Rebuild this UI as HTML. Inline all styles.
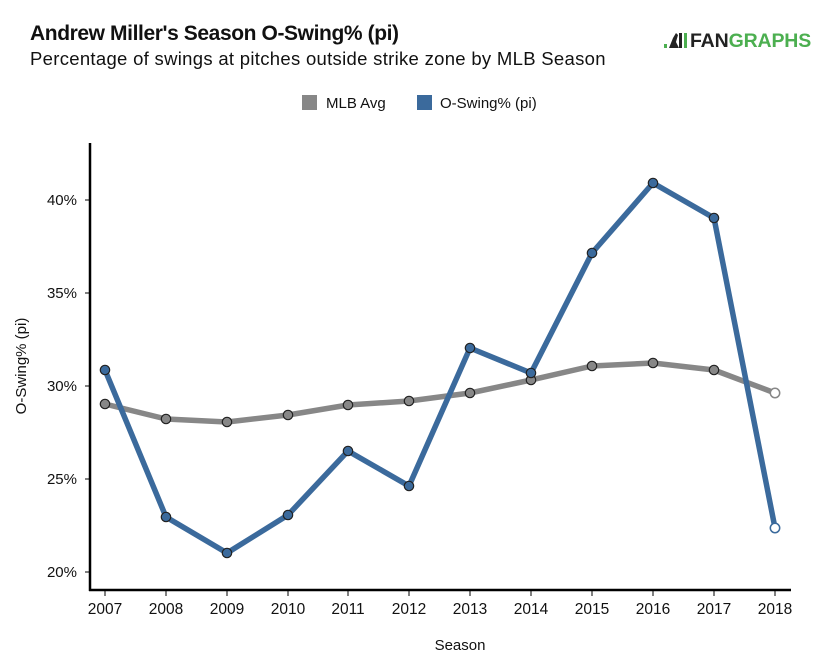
<!DOCTYPE html>
<html>
<head>
<meta charset="utf-8">
<style>
  html,body{margin:0;padding:0;background:#fff;}
  body{width:828px;height:665px;overflow:hidden;font-family:"Liberation Sans",sans-serif;}
</style>
</head>
<body>
<svg width="828" height="665" viewBox="0 0 828 665" xmlns="http://www.w3.org/2000/svg" style="display:block">
  <rect width="828" height="665" fill="#fff"/>
  <!-- Title -->
  <text x="30" y="40" font-family="Liberation Sans, sans-serif" font-size="21" font-weight="bold" fill="#111" letter-spacing="-0.4">Andrew Miller's Season O-Swing% (pi)</text>
  <text x="30" y="65" font-family="Liberation Sans, sans-serif" font-size="18.5" fill="#111" letter-spacing="0.3">Percentage of swings at pitches outside strike zone by MLB Season</text>
  <!-- Logo -->
  <g>
    <rect x="664" y="44" width="3" height="4" fill="#4caf50"/>
    <path d="M669 48 L673 38 L676 33 L678 35 L676 42 L679 48 Z" fill="#222"/>
    <rect x="679" y="33" width="3" height="15" fill="#222"/>
    <rect x="684" y="33" width="3" height="15" fill="#4caf50"/>
    <text x="690" y="47" font-family="Liberation Sans, sans-serif" font-size="19.5" font-weight="bold" fill="#222" letter-spacing="-0.15">FAN<tspan fill="#4caf50">GRAPHS</tspan></text>
  </g>
  <!-- Legend -->
  <rect x="302" y="95" width="15" height="15" fill="#878787"/>
  <text x="326" y="108" font-family="Liberation Sans, sans-serif" font-size="15" fill="#111">MLB Avg</text>
  <rect x="417" y="95" width="15" height="15" fill="#3b6a9c"/>
  <text x="440" y="108" font-family="Liberation Sans, sans-serif" font-size="15" fill="#111">O-Swing% (pi)</text>

  <!-- Axes -->
  <line x1="90" y1="143" x2="90" y2="591" stroke="#000" stroke-width="2.5"/>
  <line x1="89" y1="590" x2="791" y2="590" stroke="#000" stroke-width="2.5"/>
  <!-- Y ticks -->
  <g stroke="#000" stroke-width="1">
    <line x1="85" y1="200" x2="90" y2="200"/>
    <line x1="85" y1="293" x2="90" y2="293"/>
    <line x1="85" y1="386" x2="90" y2="386"/>
    <line x1="85" y1="479" x2="90" y2="479"/>
    <line x1="85" y1="572" x2="90" y2="572"/>
  </g>
  <g font-family="Liberation Sans, sans-serif" font-size="15" fill="#111" text-anchor="end">
    <text x="77" y="205">40%</text>
    <text x="77" y="298">35%</text>
    <text x="77" y="391">30%</text>
    <text x="77" y="484">25%</text>
    <text x="77" y="577">20%</text>
  </g>
  <!-- X ticks -->
  <g stroke="#000" stroke-width="1">
    <line x1="105" y1="590" x2="105" y2="596"/>
    <line x1="166" y1="590" x2="166" y2="596"/>
    <line x1="227" y1="590" x2="227" y2="596"/>
    <line x1="288" y1="590" x2="288" y2="596"/>
    <line x1="348" y1="590" x2="348" y2="596"/>
    <line x1="409" y1="590" x2="409" y2="596"/>
    <line x1="470" y1="590" x2="470" y2="596"/>
    <line x1="531" y1="590" x2="531" y2="596"/>
    <line x1="592" y1="590" x2="592" y2="596"/>
    <line x1="653" y1="590" x2="653" y2="596"/>
    <line x1="714" y1="590" x2="714" y2="596"/>
    <line x1="775" y1="590" x2="775" y2="596"/>
  </g>
  <g font-family="Liberation Sans, sans-serif" font-size="15.5" fill="#111" text-anchor="middle">
    <text x="105" y="614">2007</text>
    <text x="166" y="614">2008</text>
    <text x="227" y="614">2009</text>
    <text x="288" y="614">2010</text>
    <text x="348" y="614">2011</text>
    <text x="409" y="614">2012</text>
    <text x="470" y="614">2013</text>
    <text x="531" y="614">2014</text>
    <text x="592" y="614">2015</text>
    <text x="653" y="614">2016</text>
    <text x="714" y="614">2017</text>
    <text x="775" y="614">2018</text>
  </g>
  <text x="460" y="650" font-family="Liberation Sans, sans-serif" font-size="15" fill="#111" text-anchor="middle">Season</text>
  <text transform="translate(26,366) rotate(-90)" font-family="Liberation Sans, sans-serif" font-size="15" fill="#111" text-anchor="middle">O-Swing% (pi)</text>

  <!-- MLB Avg line -->
  <polyline fill="none" stroke="#878787" stroke-width="5.5" stroke-linejoin="round"
    points="105,404 166,419 227,422 288,415 348,405 409,401 470,393 531,380 592,366 653,363 714,370 775,393"/>
  <!-- O-Swing line -->
  <polyline fill="none" stroke="#3b6a9c" stroke-width="5.5" stroke-linejoin="round"
    points="105,370 166,517 227,553 288,515 348,451 409,486 470,348 531,373 592,253 653,183 714,218 775,528"/>

  <!-- MLB markers -->
  <g fill="#878787" stroke="#222" stroke-width="1.2">
    <circle cx="105" cy="404" r="4.7"/>
    <circle cx="166" cy="419" r="4.7"/>
    <circle cx="227" cy="422" r="4.7"/>
    <circle cx="288" cy="415" r="4.7"/>
    <circle cx="348" cy="405" r="4.7"/>
    <circle cx="409" cy="401" r="4.7"/>
    <circle cx="470" cy="393" r="4.7"/>
    <circle cx="531" cy="380" r="4.7"/>
    <circle cx="592" cy="366" r="4.7"/>
    <circle cx="653" cy="363" r="4.7"/>
    <circle cx="714" cy="370" r="4.7"/>
  </g>
  <circle cx="775" cy="393" r="4.7" fill="#fff" stroke="#878787" stroke-width="1.5"/>
  <!-- O-Swing markers -->
  <g fill="#3b6a9c" stroke="#222" stroke-width="1.2">
    <circle cx="105" cy="370" r="4.7"/>
    <circle cx="166" cy="517" r="4.7"/>
    <circle cx="227" cy="553" r="4.7"/>
    <circle cx="288" cy="515" r="4.7"/>
    <circle cx="348" cy="451" r="4.7"/>
    <circle cx="409" cy="486" r="4.7"/>
    <circle cx="470" cy="348" r="4.7"/>
    <circle cx="531" cy="373" r="4.7"/>
    <circle cx="592" cy="253" r="4.7"/>
    <circle cx="653" cy="183" r="4.7"/>
    <circle cx="714" cy="218" r="4.7"/>
  </g>
  <circle cx="775" cy="528" r="4.7" fill="#fff" stroke="#3b6a9c" stroke-width="1.5"/>
</svg>
</body>
</html>
